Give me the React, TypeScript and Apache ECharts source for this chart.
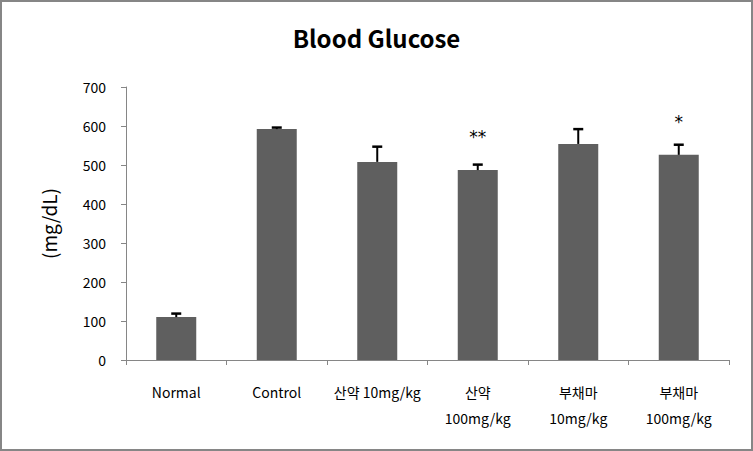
import React, { useEffect, useRef } from "react";
import * as echarts from "echarts";

const categories = ["Normal", "Control", "산약 10mg/kg", "산약\n100mg/kg", "부채마\n10mg/kg", "부채마\n100mg/kg"];
const means = [110, 592, 508, 487, 554, 526];
const errors = [9, 4, 39, 14, 38, 26];
const marks = ["", "", "", "**", "", "*"];
const markLevels = [0, 0, 0, 580, 0, 618];
const yTicks = [0, 100, 200, 300, 400, 500, 600, 700];

const FONT = "'Noto Sans CJK KR', 'Noto Sans', sans-serif";

export default function App() {
  const ref = useRef<HTMLDivElement>(null);
  useEffect(() => {
    if (!ref.current) return;
    const chart = echarts.init(ref.current, undefined, { renderer: "svg" });
    chart.setOption({
      animation: false,
      backgroundColor: "#ffffff",
      title: {
        text: "Blood Glucose",
        left: "center",
        top: 20,
        textStyle: { fontFamily: FONT, fontSize: 24, fontWeight: "bold", color: "#000" },
      },
      graphic: [
        {
          type: "rect",
          shape: { x: 1, y: 1, width: 751, height: 449 },
          style: { fill: "none", stroke: "#868686", lineWidth: 2 },
          z: 100,
        },
      ],
      grid: { left: 126, right: 24, top: 87, bottom: 91 },
      xAxis: {
        type: "category",
        data: categories,
        axisLine: { lineStyle: { color: "#868686" } },
        axisTick: { show: true, length: 5, lineStyle: { color: "#868686" } },
        axisLabel: {
          fontFamily: FONT,
          fontSize: 14,
          color: "#000",
          margin: 19,
          lineHeight: 26,
          interval: 0,
        },
      },
      yAxis: {
        type: "value",
        min: 0,
        max: 700,
        interval: 100,
        name: "(mg/dL)",
        nameLocation: "middle",
        nameGap: 68,
        nameRotate: 90,
        nameTextStyle: { fontFamily: FONT, fontSize: 19, color: "#000" },
        axisLine: { show: true, lineStyle: { color: "#868686" } },
        axisTick: { show: true, length: 5, lineStyle: { color: "#868686" } },
        splitLine: { show: false },
        axisLabel: {
          fontFamily: FONT,
          fontSize: 14,
          color: "#000",
          margin: 20,
          formatter: (v: number) => (yTicks.includes(v) ? String(v) : ""),
        },
      },
      series: [
        {
          type: "bar",
          data: means,
          barWidth: 40,
          itemStyle: { color: "#5f5f5f" },
        },
        {
          type: "custom",
          data: means.map((m, i) => [i, m, m + errors[i], markLevels[i]]),
          renderItem: (params: any, api: any) => {
            const i = api.value(0);
            const base = api.coord([i, api.value(1)]);
            const top = api.coord([i, api.value(2)]);
            const half = 5;
            const children: any[] = [
              {
                type: "line",
                shape: { x1: base[0], y1: base[1], x2: top[0], y2: top[1] },
                style: { stroke: "#000", lineWidth: 2 },
              },
              {
                type: "line",
                shape: { x1: top[0] - half, y1: top[1], x2: top[0] + half, y2: top[1] },
                style: { stroke: "#000", lineWidth: 2.5 },
              },
            ];
            const mk = marks[i];
            if (mk) {
              const mp = api.coord([i, api.value(3)]);
              children.push({
                type: "text",
                x: mp[0],
                y: mp[1] + 3,
                style: {
                  text: mk,
                  fontFamily: "'DejaVu Sans', sans-serif",
                  fontSize: 17,
                  fill: "#000",
                  align: "center",
                  verticalAlign: "middle",
                },
              });
            }
            return { type: "group", children };
          },
          z: 10,
        },
      ],
    });
    return () => chart.dispose();
  }, []);
  return (
    <div
      ref={ref}
      style={{ position: "fixed", left: 0, top: 0, width: 753, height: 451 }}
    />
  );
}
